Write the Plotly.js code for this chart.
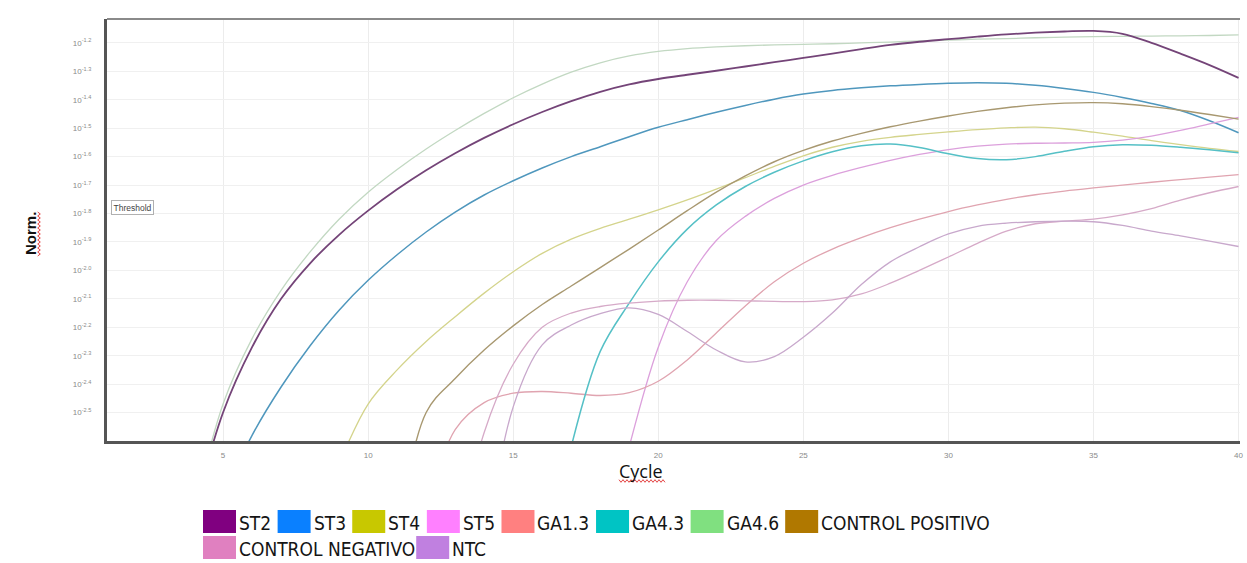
<!DOCTYPE html>
<html>
<head>
<meta charset="utf-8">
<script src="https://cdn.plot.ly/plotly-3.0.1.min.js"></script>
<style>
  html, body { margin: 0; padding: 0; background: #fff; }
  #chart { width: 1247px; height: 563px; }
</style>
</head>
<body>
<div id="chart"></div>
<script>
// ---------------- DATA ----------------
const cycles = [1,2,3,4,5,6,7,8,9,10,11,12,13,14,15,16,17,18,19,20,21,22,23,24,25,26,27,28,29,30,31,32,33,34,35,36,37,38,39,40];

const seriesNames = ['ST2','ST3','ST4','ST5','GA1.3','GA4.3','GA4.6','CONTROL POSITIVO','CONTROL NEGATIVO','NTC'];

// log10 of normalised fluorescence per cycle (null = not yet visible)
const st2Log  = [null,null,null,-2.85,-2.50,-2.27,-2.10,-1.975,-1.875,-1.79,-1.715,-1.648,-1.588,-1.534,-1.486,-1.443,-1.405,-1.372,-1.346,-1.327,-1.312,-1.298,-1.283,-1.268,-1.253,-1.238,-1.222,-1.207,-1.196,-1.187,-1.178,-1.17,-1.164,-1.16,-1.158,-1.168,-1.20,-1.238,-1.278,-1.323];
const st3Log  = [null,null,null,null,-2.80,-2.58,-2.41,-2.265,-2.14,-2.035,-1.945,-1.865,-1.795,-1.735,-1.685,-1.64,-1.60,-1.565,-1.53,-1.497,-1.47,-1.444,-1.42,-1.398,-1.38,-1.367,-1.358,-1.351,-1.346,-1.342,-1.34,-1.342,-1.349,-1.36,-1.374,-1.392,-1.413,-1.438,-1.474,-1.516];
const st4Log  = [null,null,null,null,null,null,null,null,-2.68,-2.47,-2.35,-2.25,-2.163,-2.08,-2.005,-1.94,-1.89,-1.852,-1.82,-1.787,-1.752,-1.714,-1.674,-1.634,-1.597,-1.567,-1.546,-1.532,-1.522,-1.513,-1.505,-1.499,-1.496,-1.502,-1.514,-1.528,-1.544,-1.558,-1.571,-1.582];
const st5Log  = [null,null,null,null,null,null,null,null,null,null,null,null,null,null,null,null,null,null,-2.62,-2.27,-2.04,-1.895,-1.81,-1.747,-1.70,-1.666,-1.638,-1.613,-1.592,-1.575,-1.563,-1.556,-1.553,-1.552,-1.55,-1.542,-1.528,-1.508,-1.485,-1.462];
const ga13Log = [null,null,null,null,null,null,null,null,null,null,null,-2.85,-2.56,-2.465,-2.432,-2.426,-2.432,-2.44,-2.43,-2.39,-2.315,-2.22,-2.125,-2.04,-1.975,-1.925,-1.885,-1.85,-1.82,-1.793,-1.77,-1.75,-1.734,-1.721,-1.71,-1.70,-1.69,-1.681,-1.672,-1.663];
const ga43Log = [null,null,null,null,null,null,null,null,null,null,null,null,null,null,null,null,-2.62,-2.285,-2.115,-1.97,-1.855,-1.77,-1.705,-1.655,-1.615,-1.583,-1.562,-1.556,-1.568,-1.59,-1.607,-1.611,-1.60,-1.581,-1.565,-1.558,-1.56,-1.567,-1.576,-1.586];
const ga46Log = [null,null,null,-2.85,-2.47,-2.24,-2.07,-1.935,-1.82,-1.725,-1.645,-1.573,-1.508,-1.448,-1.393,-1.345,-1.303,-1.27,-1.246,-1.23,-1.22,-1.214,-1.21,-1.207,-1.205,-1.203,-1.20,-1.197,-1.193,-1.19,-1.187,-1.185,-1.182,-1.18,-1.178,-1.177,-1.176,-1.175,-1.174,-1.172];
const cposLog = [null,null,null,null,null,null,null,null,null,null,-2.95,-2.50,-2.38,-2.28,-2.195,-2.12,-2.055,-1.99,-1.925,-1.858,-1.79,-1.725,-1.668,-1.618,-1.578,-1.545,-1.518,-1.495,-1.475,-1.457,-1.441,-1.428,-1.418,-1.412,-1.41,-1.414,-1.424,-1.437,-1.452,-1.468];
const cnegLog = [null,null,null,null,null,null,null,null,null,null,null,null,-3.0,-2.57,-2.33,-2.2,-2.15,-2.127,-2.115,-2.108,-2.105,-2.105,-2.107,-2.109,-2.11,-2.104,-2.083,-2.045,-2.0,-1.953,-1.905,-1.862,-1.836,-1.827,-1.82,-1.805,-1.783,-1.753,-1.727,-1.705];
const ntcLog  = [null,null,null,null,null,null,null,null,null,null,null,null,null,-3.0,-2.48,-2.262,-2.192,-2.152,-2.132,-2.155,-2.215,-2.28,-2.322,-2.303,-2.235,-2.15,-2.05,-1.97,-1.917,-1.872,-1.845,-1.834,-1.829,-1.827,-1.829,-1.842,-1.862,-1.879,-1.897,-1.916];

const seriesLog = [st2Log, st3Log, st4Log, st5Log, ga13Log, ga43Log, ga46Log, cposLog, cnegLog, ntcLog];

const thresholdLog = -1.745;
const xTickVals = [5,10,15,20,25,30,35,40];
const yTickExps = [-1.2,-1.3,-1.4,-1.5,-1.6,-1.7,-1.8,-1.9,-2.0,-2.1,-2.2,-2.3,-2.4,-2.5];

// ---------------- STYLE ----------------
const legendColors = ['#800080','#0a80ff','#c8c800','#ff80ff','#ff8080','#00c4c4','#80e080','#b07800','#e080c0','#c080e0'];
const lineColors   = ['#744478','#4f97bd','#d4d48c','#dca0dc','#e0a4b0','#55c0c6','#c2d8c2','#a89870','#d6aac8','#c8a8cc'];
const lineWidths   = [1.8,1.5,1.3,1.3,1.3,1.5,1.3,1.4,1.3,1.3];

const W = 1247, H = 563;
const M = {l: 107, r: 7, t: 19, b: 122};
const PW = W - M.l - M.r, PH = H - M.t - M.b;
const px2paperX = px => (px - M.l) / PW;
const px2paperY = py => (H - M.b - py) / PH;

// ---------------- TRACES ----------------
const traces = seriesNames.map((name, i) => ({
  type: 'scatter',
  mode: 'lines',
  name: name,
  x: cycles,
  y: seriesLog[i].map(v => v === null ? null : Math.pow(10, v)),
  line: {color: lineColors[i], width: lineWidths[i], shape: 'spline', smoothing: 1},
  connectgaps: false,
  showlegend: false,
  hoverinfo: 'skip'
}));
const ordered = traces.slice(1).concat([traces[0]]);

// ---------------- LAYOUT ----------------
const shapes = [
  {type: 'line', xref: 'paper', yref: 'y', x0: 0, x1: 1, y0: thresholdLog, y1: thresholdLog,
   line: {color: '#c84848', width: 1.2}},
  {type: 'line', xref: 'paper', yref: 'paper', x0: 0, x1: 1, y0: 1, y1: 1,
   line: {color: '#8a8a8a', width: 2}}
];

// spell-check style red wavy underline (decoration seen under the axis titles)
function wavy(x0, y0, len, vertical) {
  let d = '', step = 2, amp = 1.3, k = 0;
  for (let s = 0; s <= len; s += step, k++) {
    const off = (k % 2 === 0 ? -amp : amp);
    const px = vertical ? x0 + off : x0 + s;
    const py = vertical ? y0 - s : y0 + off;
    d += (s === 0 ? 'M' : 'L') + px2paperX(px).toFixed(5) + ',' + px2paperY(py).toFixed(5);
  }
  return {type: 'path', xref: 'paper', yref: 'paper', path: d, line: {color: '#e03030', width: 0.9}};
}
shapes.push(wavy(619, 481, 46, false));
shapes.push(wavy(39, 256, 44, true));

const annotations = [
  {xref: 'paper', yref: 'y', x: px2paperX(111), y: thresholdLog, xanchor: 'left', yanchor: 'top',
   yshift: -2, text: 'Threshold', showarrow: false, bgcolor: '#ffffff', bordercolor: '#b0b0b0',
   borderwidth: 1, borderpad: 1.5, font: {family: 'Liberation Sans, Arial, sans-serif', size: 8.5, color: '#444'}},
  {xref: 'paper', yref: 'paper', x: px2paperX(30), y: px2paperY(234), textangle: -90,
   text: '<b>Norm.</b>', showarrow: false, xanchor: 'center', yanchor: 'middle',
   font: {family: 'Liberation Sans, Arial, sans-serif', size: 15, color: '#111'}},
  {xref: 'paper', yref: 'paper', x: px2paperX(641), y: px2paperY(471),
   text: 'Cycle', showarrow: false, xanchor: 'center', yanchor: 'middle', borderpad: 0,
   font: {family: 'Open Sans, Liberation Sans, sans-serif', size: 18, color: '#111'}}
];

// legend built manually (large colour swatches, two rows)
(function buildLegend() {
  const legFont = '"Liberation Sans Narrow", "DejaVu Sans Condensed", sans-serif';
  const legSize = 19;
  const ctx = document.createElement('canvas').getContext('2d');
  ctx.font = legSize + 'px ' + legFont;
  const boxW = 33, boxH = 23, gapAfterBox = 3;
  const startX = 203, row1End = 990, rowTops = [510, 536];
  const row1Count = 8;
  const widths = seriesNames.map(n => ctx.measureText(n).width);
  let row1Text = 0;
  for (let i = 0; i < row1Count; i++) row1Text += widths[i];
  const row1Gap = (row1End - startX - row1Count * (boxW + gapAfterBox) - row1Text) / (row1Count - 1);
  const row2Gap = 1;
  let x = startX, row = 0;
  seriesNames.forEach((name, i) => {
    if (i === row1Count) { row = 1; x = startX; }
    const top = rowTops[row];
    shapes.push({type: 'rect', xref: 'paper', yref: 'paper',
      x0: px2paperX(x), x1: px2paperX(x + boxW), y0: px2paperY(top + boxH), y1: px2paperY(top),
      fillcolor: legendColors[i], line: {width: 0}});
    annotations.push({xref: 'paper', yref: 'paper', x: px2paperX(x + boxW + gapAfterBox - 1),
      y: px2paperY(top + boxH / 2 + 1), xanchor: 'left', yanchor: 'middle', showarrow: false,
      text: name, borderpad: 0, font: {family: legFont, size: legSize, color: '#151515'}});
    x += boxW + gapAfterBox + widths[i] + (row === 0 ? row1Gap : row2Gap);
  });
})();

const layout = {
  width: W, height: H,
  margin: M,
  paper_bgcolor: '#ffffff',
  plot_bgcolor: '#ffffff',
  showlegend: false,
  xaxis: {
    range: [1, 40.05],
    tickvals: xTickVals,
    ticktext: xTickVals.map(String),
    showgrid: true, gridcolor: '#ececec', gridwidth: 1,
    zeroline: false,
    showline: true, linecolor: '#555555', linewidth: 3,
    ticks: '', ticklabelstandoff: 4,
    tickfont: {family: 'Liberation Sans, Arial, sans-serif', size: 8, color: '#8a8a8a'}
  },
  yaxis: {
    type: 'log',
    range: [-2.6, -1.116],
    tickvals: yTickExps.map(e => Math.pow(10, e)),
    ticktext: yTickExps.map(e => '10<sup>' + e.toFixed(1) + '</sup>'),
    showgrid: true, gridcolor: '#f0f0f0', gridwidth: 1,
    zeroline: false,
    showline: true, linecolor: '#555555', linewidth: 3,
    ticks: '', ticklabelstandoff: 11,
    tickfont: {family: 'Liberation Sans, Arial, sans-serif', size: 8, color: '#8a8a8a'}
  },
  shapes: shapes,
  annotations: annotations
};

Plotly.newPlot('chart', ordered, layout, {displayModeBar: false, staticPlot: true});
</script>
</body>
</html>
